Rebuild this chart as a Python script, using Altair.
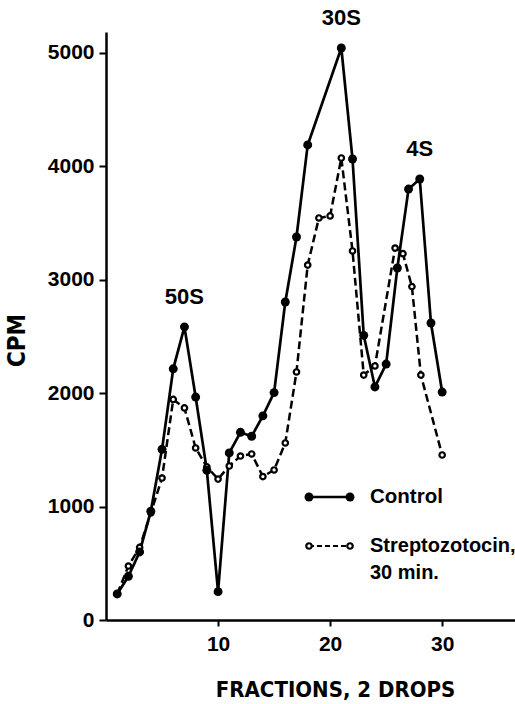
import altair as alt
import pandas as pd

# ---- data ----
control_frac = [1, 2, 3, 4, 5, 6, 7, 8, 9, 10, 11, 12, 13, 14, 15, 16, 17, 18,
                21, 22, 23, 24, 25, 26, 27, 28, 29, 30]
control_cpm = [230, 385, 600, 960, 1505, 2215, 2585, 1966, 1320, 250, 1473, 1655,
               1620, 1800, 2005, 2804, 3377, 4189, 5044, 4065, 2510, 2055, 2257,
               3104, 3800, 3889, 2619, 2010]

strep_frac = [1, 2, 3, 4, 5, 6, 7, 8, 9, 10, 11, 12, 13, 14, 15, 16, 17, 18, 19,
              20, 21, 22, 23, 24, 25.8, 26.5, 27.3, 28.1, 30]
strep_cpm = [230, 476, 640, 944, 1252, 1945, 1870, 1517, 1350, 1243, 1358, 1446,
             1464, 1265, 1323, 1561, 2187, 3130, 3545, 3563, 4074, 3254, 2160,
             2240, 3280, 3230, 2940, 2160, 1455]

peak_labels = ["50S", "30S", "4S"]
peak_frac = [7, 21, 28]
peak_cpm = [2585, 5044, 3889]

legend_labels = ["Control", "Streptozotocin,", "30 min."]
y_ticks = [0, 1000, 2000, 3000, 4000, 5000]
x_ticks = [10, 20, 30]

# ---- tables ----
ctrl_df = pd.DataFrame({"frac": control_frac, "cpm": control_cpm})
strep_df = pd.DataFrame({"frac": strep_frac, "cpm": strep_cpm})
peak_df = pd.DataFrame({"label": peak_labels, "frac": peak_frac, "cpm": peak_cpm})
leg1 = pd.DataFrame({"label": [legend_labels[0]]})
leg2 = pd.DataFrame({"label": [legend_labels[1]]})
leg3 = pd.DataFrame({"label": [legend_labels[2]]})

BOLD = "Liberation Sans"
NARROW = "Liberation Sans Narrow, DejaVu Sans Condensed, Liberation Sans"

xs = alt.Scale(domain=[0, 36.5], nice=False, zero=False)
ys = alt.Scale(domain=[0, 5185], nice=False)

x_axis = alt.Axis(values=x_ticks, grid=False, domainColor="black", domainWidth=2.5,
                  tickColor="black", tickWidth=2, tickSize=6,
                  labelFont=BOLD, labelFontWeight="bold", labelFontSize=21,
                  labelColor="black", labelPadding=7, format="d",
                  title="FRACTIONS, 2 DROPS", titleFont=NARROW, titleFontSize=22,
                  titleFontWeight="bold", titleColor="black",
                  titleX=229, titleY=69, titleBaseline="middle", titleAlign="center")
y_axis = alt.Axis(values=y_ticks, grid=False, domainColor="black", domainWidth=2.5,
                  tickColor="black", tickWidth=2, tickSize=7,
                  labelFont=BOLD, labelFontWeight="bold", labelFontSize=21,
                  labelColor="black", labelPadding=5, format="d",
                  title="CPM", titleFont=NARROW, titleFontSize=24,
                  titleFontWeight="bold", titleColor="black",
                  titleX=-89, titleY=308, titleBaseline="middle", titleAlign="center",
                  titleAngle=270)

X = alt.X("frac:Q", scale=xs, axis=x_axis)
Y = alt.Y("cpm:Q", scale=ys, axis=y_axis)

OPEN = dict(shape="circle", filled=False, fill="white", fillOpacity=1, stroke="black",
            strokeWidth=2.2, size=30, opacity=1)

strep_line = alt.Chart(strep_df).mark_line(
    color="black", strokeWidth=2.5, strokeDash=[8, 4]).encode(x=X, y=Y, order="frac:Q")
ctrl_line = alt.Chart(ctrl_df).mark_line(
    color="black", strokeWidth=2.7).encode(x=X, y=Y, order="frac:Q")
strep_pts = alt.Chart(strep_df).mark_point(**OPEN).encode(x=X, y=Y)
ctrl_pts = alt.Chart(ctrl_df).mark_circle(
    color="black", size=80, opacity=1).encode(x=X, y=Y)
peaks = alt.Chart(peak_df).mark_text(
    font=BOLD, fontWeight="bold", fontSize=22, dy=-30, color="black").encode(
    x=X, y=Y, text="label:N")

# ---- hand-drawn style legend ----
ly1, ly2, ly3 = 465, 514, 541
lx0, lx1, ltx = 203, 244, 264
leg_rule1 = alt.Chart(leg1).mark_rule(color="black", strokeWidth=2.7).encode(
    x=alt.value(lx0), x2=alt.value(lx1), y=alt.value(ly1))
leg_dot1a = alt.Chart(leg1).mark_circle(color="black", size=80, opacity=1).encode(
    x=alt.value(lx0), y=alt.value(ly1))
leg_dot1b = alt.Chart(leg1).mark_circle(color="black", size=80, opacity=1).encode(
    x=alt.value(lx1), y=alt.value(ly1))
leg_txt1 = alt.Chart(leg1).mark_text(
    font=BOLD, fontWeight="bold", fontSize=20.5, align="left", baseline="middle",
    color="black").encode(x=alt.value(ltx), y=alt.value(ly1), text="label:N")

leg_rule2 = alt.Chart(leg2).mark_rule(color="black", strokeWidth=2, strokeDash=[5, 3]).encode(
    x=alt.value(lx0), x2=alt.value(lx1), y=alt.value(ly2))
leg_dot2a = alt.Chart(leg2).mark_point(**OPEN).encode(x=alt.value(lx0), y=alt.value(ly2))
leg_dot2b = alt.Chart(leg2).mark_point(**OPEN).encode(x=alt.value(lx1), y=alt.value(ly2))
leg_txt2 = alt.Chart(leg2).mark_text(
    font=BOLD, fontWeight="bold", fontSize=20, align="left", baseline="middle",
    color="black").encode(x=alt.value(ltx), y=alt.value(ly2), text="label:N")
leg_txt3 = alt.Chart(leg3).mark_text(
    font=BOLD, fontWeight="bold", fontSize=20, align="left", baseline="middle",
    color="black").encode(x=alt.value(ltx), y=alt.value(ly3), text="label:N")

chart = alt.layer(
    strep_line, ctrl_line, strep_pts, ctrl_pts, peaks,
    leg_rule1, leg_dot1a, leg_dot1b, leg_txt1,
    leg_rule2, leg_dot2a, leg_dot2b, leg_txt2, leg_txt3,
).properties(
    width=409, height=588,
    autosize=alt.AutoSizeParams(type="none"),
    padding={"left": 106, "top": 32, "right": 0, "bottom": 84},
    background="white",
).configure_view(stroke=None)

chart.save("out.html", embed_options={"renderer": "svg", "actions": False})
